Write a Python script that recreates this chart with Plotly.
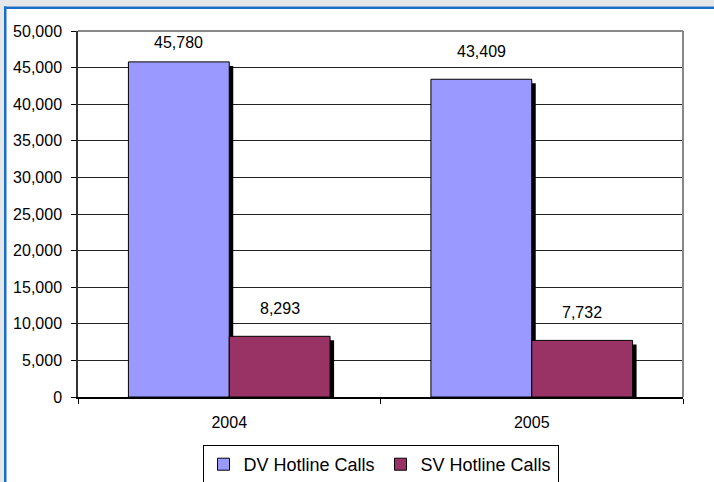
import plotly.graph_objects as go

years = ["2004", "2005"]
dv_calls = [45780, 43409]
sv_calls = [8293, 7732]
series_names = ["DV Hotline Calls", "SV Hotline Calls"]
series_colors = ["#9999FF", "#993366"]

W, H = 714, 482
L, R, T, B = 78, 31, 31, 85
PW, PH = W - L - R, H - T - B
YMAX = 50000
BW = 1 / 3
px_x = 1 / PW * 2          # category units per pixel (2 categories)
px_y = YMAX / PH           # data units per pixel

fig = go.Figure()
FONT = "Liberation Sans, Arial, sans-serif"

series = [dv_calls, sv_calls]
offsets = [-BW, 0]
# shadows
for vals, off in zip(series, offsets):
    fig.add_trace(go.Bar(
        x=years, y=[v - 4 * px_y for v in vals], offset=off + 4 * px_x, width=BW,
        marker=dict(color="black", line=dict(width=0)), showlegend=False, hoverinfo="skip"))
for vals, off, name, col in zip(series, offsets, series_names, series_colors):
    fig.add_trace(go.Bar(
        x=years, y=vals, offset=off, width=BW, name=name,
        marker=dict(color=col, line=dict(color="black", width=1))))

annotations = []
for vals, off in zip(series, offsets):
    for i, v in enumerate(vals):
        gap = (YMAX - v) / px_y
        ys = min(28, gap - 12)
        annotations.append(dict(
            x=i, y=v, xref="x", yref="y", text=f"{v:,}", showarrow=False,
            xshift=(off + BW / 2) * PW / 2, yshift=ys,
            font=dict(family=FONT, size=16, color="black")))

def fx(px):
    return (px - L) / PW

def fy(py):
    return (H - B - py) / PH

shapes = [
    # outer frame
    dict(type="rect", xref="paper", yref="paper", x0=fx(0), x1=fx(W), y0=fy(0), y1=fy(6.5),
         fillcolor="#e6e7e9", line=dict(width=0), layer="below"),
    dict(type="rect", xref="paper", yref="paper", x0=fx(0), x1=fx(4), y0=fy(H), y1=fy(0),
         fillcolor="#e6e7e9", line=dict(width=0), layer="below"),
    dict(type="rect", xref="paper", yref="paper", x0=fx(4), x1=fx(W), y0=fy(6.5), y1=fy(9),
         fillcolor="#1c6ec4", line=dict(width=0), layer="below"),
    dict(type="rect", xref="paper", yref="paper", x0=fx(4), x1=fx(6.5), y0=fy(H), y1=fy(6.5),
         fillcolor="#1c6ec4", line=dict(width=0), layer="below"),
    # plot area border (gray top/right)
    dict(type="line", xref="paper", yref="paper", x0=0, x1=1, y0=1, y1=1,
         line=dict(color="#888888", width=2)),
    dict(type="line", xref="paper", yref="paper", x0=1, x1=1, y0=0, y1=1,
         line=dict(color="#888888", width=2)),
]

fig.update_layout(
    width=W, height=H,
    margin=dict(l=L, r=R, t=T, b=B, autoexpand=False),
    paper_bgcolor="white", plot_bgcolor="white",
    barmode="overlay",
    font=dict(family=FONT, size=16, color="black"),
    showlegend=True,
    legend=dict(orientation="h", x=0.5, xanchor="center",
                yref="container", y=1 - 445 / H, yanchor="top",
                bgcolor="white", bordercolor="black", borderwidth=1,
                entrywidth=132, itemwidth=30,
                font=dict(family=FONT, size=18, color="black"), traceorder="normal"),
    xaxis=dict(type="category", range=[-0.5, 1.5], tickson="boundaries", ticks="outside",
               ticklen=5, tickcolor="black", showline=True, linecolor="black", linewidth=1.5,
               showgrid=False, ticklabelstandoff=10, tickfont=dict(size=16), fixedrange=True),
    yaxis=dict(range=[0, YMAX], dtick=5000, tickformat=",", ticks="outside", ticklen=5,
               tickcolor="black", showline=True, linecolor="#333333", linewidth=1.5,
               showgrid=True, gridcolor="#222222", gridwidth=1, zeroline=False,
               ticklabelstandoff=6, tickfont=dict(size=16), fixedrange=True),
    annotations=annotations,
    shapes=shapes,
)

fig.write_html("out.html", config={"displayModeBar": False},
               post_script="document.body.style.margin='0';")
